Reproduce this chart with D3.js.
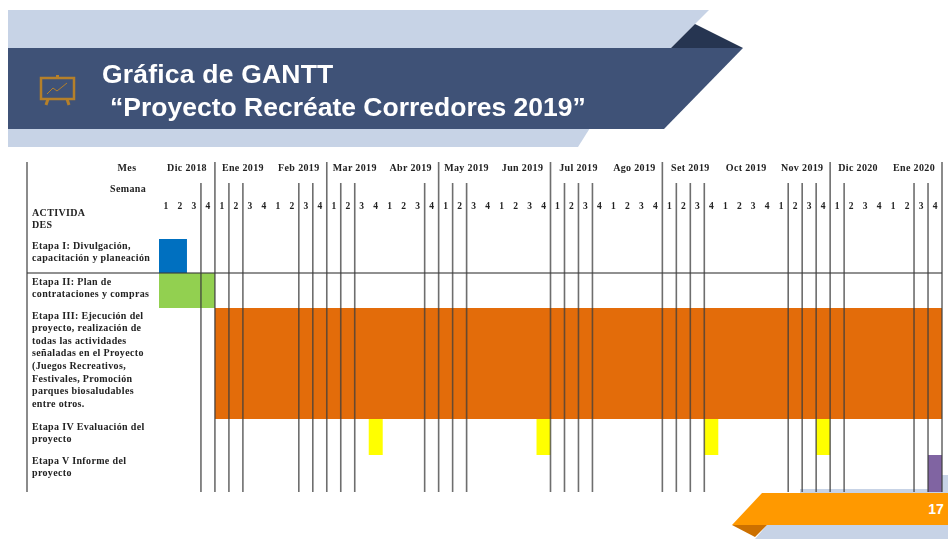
<!DOCTYPE html>
<html>
<head>
<meta charset="utf-8">
<title>Gráfica de GANTT</title>
<script src="https://cdn.jsdelivr.net/npm/d3@7"></script>
<style>
  html, body { margin: 0; padding: 0; background: #fff; }
  svg { display: block; }
  .tabla text { font-family: "Liberation Serif", serif; font-weight: bold; font-size: 10px; letter-spacing: 0.35px; fill: #222; }
  .tabla .semanas text { font-size: 9.5px; letter-spacing: 0; }
  .titulo text { font-family: "Liberation Sans", sans-serif; font-weight: bold; font-size: 26.5px; fill: #fff; }
</style>
</head>
<body>
<svg id="chart" width="948" height="539"></svg>
<script>
/* Datos */
let meses = ["Dic 2018", "Ene 2019", "Feb 2019", "Mar 2019", "Abr 2019", "May 2019", "Jun 2019",
             "Jul 2019", "Ago 2019", "Set 2019", "Oct 2019", "Nov 2019", "Dic 2020", "Ene 2020"]
let semanas = ["1", "2", "3", "4"]

let etapas = ["I", "II", "III", "IV", "V"]
let etapaTextos = [
  ["Etapa I: Divulgación,", "capacitación y planeación"],
  ["Etapa II: Plan de", "contrataciones y compras"],
  ["Etapa III: Ejecución del", "proyecto, realización de", "todas las actividades", "señaladas en el Proyecto",
   "(Juegos Recreativos,", "Festivales, Promoción", "parques biosaludables", "entre otros."],
  ["Etapa IV Evaluación del", "proyecto"],
  ["Etapa V Informe del", "proyecto"]
]

// etapa, semana inicial, semana final (contadas desde el inicio de Dic 2018)
let tareas = [
  ["I", 0, 2, "#0070c0"],
  ["II", 0, 4, "#92d050"],
  ["III", 4, 56, "#e36c0a"],
  ["IV", 15, 16, "#ffff00"],
  ["IV", 27, 28, "#ffff00"],
  ["IV", 39, 40, "#ffff00"],
  ["IV", 47, 48, "#ffff00"],
  ["V", 55, 56, "#8064a2"]
]

// lineas verticales que se ven en la tabla
let lineasLargas = [4, 12, 20, 28, 36, 48, 56]
let lineasCortas = [3, 5, 6, 10, 11, 13, 14, 19, 21, 22, 29, 30, 31, 37, 38, 39, 45, 46, 47, 49, 54, 55]

let svg = d3.select("#chart")

let defs = svg.append("defs")
defs.append("filter").attr("id", "blur").append("feGaussianBlur").attr("stdDeviation", 0.6)
defs.append("filter").attr("id", "blurTitulo").append("feGaussianBlur").attr("stdDeviation", 0.6)
defs.append("filter").attr("id", "blurLineas")
    .attr("filterUnits", "userSpaceOnUse").attr("x", 0).attr("y", 150).attr("width", 948).attr("height", 350)
    .append("feGaussianBlur").attr("stdDeviation", 0.4)

/* Banner de arriba */
let poly = (puntos, color) => svg.append("polygon").attr("points", puntos).attr("fill", color)

poly("8,10 709,10 671,48 8,48", "#c7d3e6")
poly("8,128 590,128 578,147 8,147", "#c7d3e6")
poly("671,48 695,24 743,48", "#263551")
poly("8,48 743,48 664,129 8,129", "#3f5277")

let icono = svg.append("g").attr("fill", "none").attr("stroke", "#b5802a").attr("stroke-width", 2.5)
icono.append("rect").attr("x", 41).attr("y", 78).attr("width", 33).attr("height", 21)
icono.append("path").attr("d", "M46 105 L48 99 M69 105 L67 99 M57.5 75 L57.5 78").attr("stroke-width", 3)
icono.append("path").attr("d", "M47 94 L53 88 L57 91 L67 83").attr("stroke-width", 1)

let titulo = svg.append("g").attr("class", "titulo").attr("filter", "url(#blurTitulo)")
titulo.append("text").attr("x", 102).attr("y", 83).attr("letter-spacing", 0.2).text("Gráfica de GANTT")
titulo.append("text").attr("x", 110).attr("y", 116).text("“Proyecto Recréate Corredores 2019”")

/* Pie de pagina */
poly("940,475 948,475 948,493 940,493", "#c7d3e6")
poly("800,489 948,489 948,493 800,493", "#c7d3e6")
poly("767,525 948,525 948,539 755,539", "#c7d3e6")
poly("732,525 767,525 755,537", "#cc7000")
poly("762,493 948,493 948,525 732,525", "#ff9900")
svg.append("text").attr("x", 936).attr("y", 514).attr("text-anchor", "middle")
   .attr("font-family", "Liberation Sans").attr("font-weight", "bold").attr("font-size", 14)
   .attr("fill", "#fff").text("17")

/* Escalas */
let xSemana = d3.scaleLinear().domain([0, 56]).range([159, 942])
let xMes = d3.scaleBand().domain(meses).range([159, 942])
let xCol = d3.scaleBand().domain(d3.range(56)).range([159, 942])

let yTop = d3.scaleOrdinal().domain(etapas).range([239, 273, 308, 419, 455])
let yBottom = d3.scaleOrdinal().domain(etapas).range([273, 308, 419, 455, 492])

let tabla = svg.append("g").attr("class", "tabla")

/* Barras */
tabla.append("g").selectAll("rect")
     .data(tareas)
     .enter()
     .append("rect")
     .attr("x", d => xSemana(d[1]))
     .attr("y", d => yTop(d[0]))
     .attr("width", d => xSemana(d[2]) - xSemana(d[1]))
     .attr("height", d => yBottom(d[0]) - yTop(d[0]))
     .attr("fill", d => d[3])

/* Lineas */
let lineas = tabla.append("g").attr("stroke", "#3c3c3c").attr("stroke-opacity", 0.75).attr("stroke-width", 1.6)
                  .attr("filter", "url(#blurLineas)")
lineas.selectAll(".larga")
      .data(lineasLargas)
      .enter()
      .append("line")
      .attr("class", "larga")
      .attr("x1", d => xSemana(d)).attr("x2", d => xSemana(d))
      .attr("y1", 162).attr("y2", 492)
lineas.selectAll(".corta")
      .data(lineasCortas)
      .enter()
      .append("line")
      .attr("class", "corta")
      .attr("x1", d => xSemana(d)).attr("x2", d => xSemana(d))
      .attr("y1", 183).attr("y2", 492)
lineas.append("line").attr("x1", 27).attr("x2", 27).attr("y1", 162).attr("y2", 492)
lineas.append("line").attr("x1", 27).attr("x2", 942).attr("y1", yBottom("I")).attr("y2", yBottom("I"))

/* Textos */
let textos = tabla.append("g").attr("filter", "url(#blur)")

let ejeMes = textos.append("g").attr("transform", "translate(0,171)")
                   .call(d3.axisTop(xMes).tickSize(0).tickPadding(0))
let ejeSemana = textos.append("g").attr("class", "semanas").attr("transform", "translate(0,209)")
                      .call(d3.axisTop(xCol).tickSize(0).tickPadding(0).tickFormat(d => semanas[d % 4]))
ejeMes.select(".domain").remove()
ejeSemana.select(".domain").remove()
textos.selectAll(".tick text").attr("dy", 0).attr("fill", null)
ejeMes.attr("font-size", null).attr("font-family", null)
ejeSemana.attr("font-size", null).attr("font-family", null)

textos.append("text").attr("x", 127).attr("y", 171).attr("text-anchor", "middle").text("Mes")
textos.append("text").attr("x", 128).attr("y", 192).attr("text-anchor", "middle").text("Semana")
textos.append("text").attr("x", 32).attr("y", 215.5).text("ACTIVIDA")
textos.append("text").attr("x", 32).attr("y", 227.5).text("DES")

// primera linea de cada etapa, el texto no siempre cae alineado con su barra
let yTexto = d3.scaleOrdinal().domain(etapas).range([248.5, 284.5, 318.5, 429.5, 463.5])

textos.selectAll(".etapa")
      .data(etapas)
      .enter()
      .append("g")
      .attr("class", "etapa")
      .each(function (e, i) {
        d3.select(this).selectAll("text")
          .data(etapaTextos[i])
          .enter()
          .append("text")
          .attr("x", 32)
          .attr("y", (d, j) => yTexto(e) + j * 12.6)
          .text(d => d)
      })
</script>
</body>
</html>
